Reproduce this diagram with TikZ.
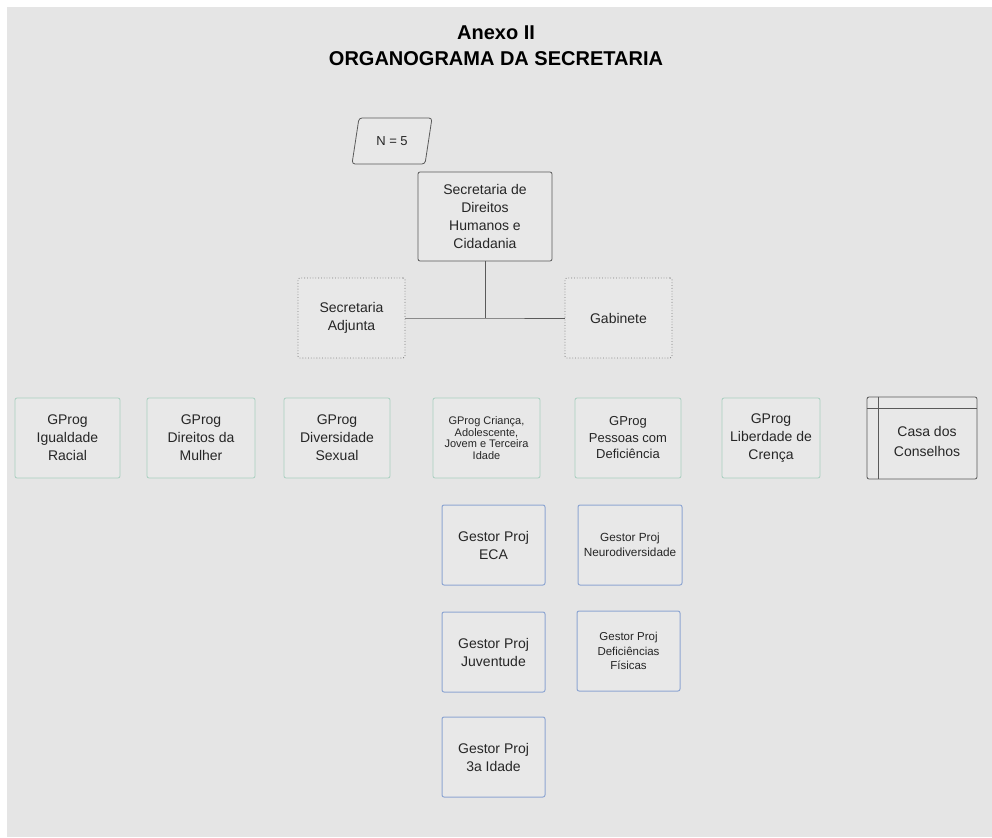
\documentclass[tikz,border=0pt]{standalone}
\usepackage{fontspec}
\setmainfont{Liberation Sans}
\begin{document}
\begin{tikzpicture}[x=1pt,y=-1pt,
  every node/.style={text=black!85, align=center, font=\fontsize{14}{18}\selectfont},
  box/.style={draw=#1, fill=boxfill, rounded corners=2pt, line width=0.8pt, inner sep=2pt},
  mainbox/.style={box=darkline, minimum width=134pt, minimum height=89pt},
  staffbox/.style={box=dotline, dotted, line width=0.9pt, minimum width=107pt, minimum height=80pt},
  progbox/.style={box=greenline, minimum height=80pt},
  projbox/.style={box=blueline, line width=1pt, minimum width=103pt, minimum height=80pt},
  link/.style={draw=darkline, line width=0.9pt}
]
\definecolor{bg}{HTML}{E5E5E5}
\definecolor{boxfill}{HTML}{E8E8E8}
\definecolor{darkline}{HTML}{5A5A5A}
\definecolor{dotline}{HTML}{7A7A7A}
\definecolor{greenline}{HTML}{A9CFC0}
\definecolor{blueline}{HTML}{8EA6D2}

% page and background
\useasboundingbox (0,0) rectangle (992,837);
\fill[white] (0,0) rectangle (992,837);
\fill[bg] (7,7) rectangle (992,837);

% title
\node[font=\bfseries\fontsize{20}{26}\selectfont, text=black] (title) at (496,46)
  {Anexo II\\ORGANOGRAMA DA SECRETARIA};

% N = 5 tag
\draw[darkline, line width=0.8pt, fill=boxfill, rounded corners=3pt]
  (352,164) -- (359,118) -- (432,118) -- (425,164) -- cycle;
\node (n5) at (392,141) {\fontsize{13}{16}\selectfont N = 5};

% top level
\node[mainbox] (sdh) at (485,216.5) {Secretaria de\\Direitos\\Humanos e\\Cidadania};
\node[staffbox] (adj) at (351.5,318) {Secretaria\\Adjunta};
\node[staffbox] (gab) at (618.5,318) {Gabinete};
\coordinate (j) at (485,318);
\draw[link] (sdh.south) -- (j);
\draw[link] (adj.east) -- (j) -- (gab.west);

% programme managers
\node[progbox, minimum width=105pt] (gir) at (67.5,438) {GProg\\Igualdade\\Racial};
\node[progbox, minimum width=108pt] (gdm) at (201,438) {GProg\\Direitos da\\Mulher};
\node[progbox, minimum width=106pt] (gds) at (337,438) {GProg\\Diversidade\\Sexual};
\node[progbox, minimum width=107pt, font=\fontsize{11}{11.8}\selectfont] (gca) at (486.5,438)
  {GProg Criança,\\Adolescente,\\Jovem e Terceira\\Idade};
\node[progbox, minimum width=106pt, font=\fontsize{13}{16.5}\selectfont] (gpd) at (628,438)
  {GProg\\Pessoas com\\Deficiência};
\node[progbox, minimum width=98pt] (glc) at (771,438) {GProg\\Liberdade de\\Crença};

% council house (internal storage shape)
\node[box=darkline, minimum width=110pt, minimum height=82pt] (casa) at (922,438) {};
\draw[darkline, line width=0.8pt] ([yshift=-12pt]casa.north west) -- ([yshift=-12pt]casa.north east);
\draw[darkline, line width=0.8pt] ([xshift=12pt]casa.north west) -- ([xshift=12pt]casa.south west);
\node[font=\fontsize{14}{20}\selectfont] (casalbl) at ([xshift=5pt,yshift=-3pt]casa.center)
  {Casa dos\\Conselhos};

% project managers
\node[projbox] (eca) at (493.5,545) {Gestor Proj\\ECA};
\node[projbox, minimum width=104pt, font=\fontsize{11.8}{14.5}\selectfont] (neu) at (630,545)
  {Gestor Proj\\Neurodiversidade};
\node[projbox] (juv) at (493.5,652) {Gestor Proj\\Juventude};
\node[projbox, font=\fontsize{11.5}{14.5}\selectfont] (dfi) at (628.5,651)
  {Gestor Proj\\Deficiências\\Físicas};
\node[projbox] (idd) at (493.5,757) {Gestor Proj\\3a Idade};
\end{tikzpicture}
\end{document}
